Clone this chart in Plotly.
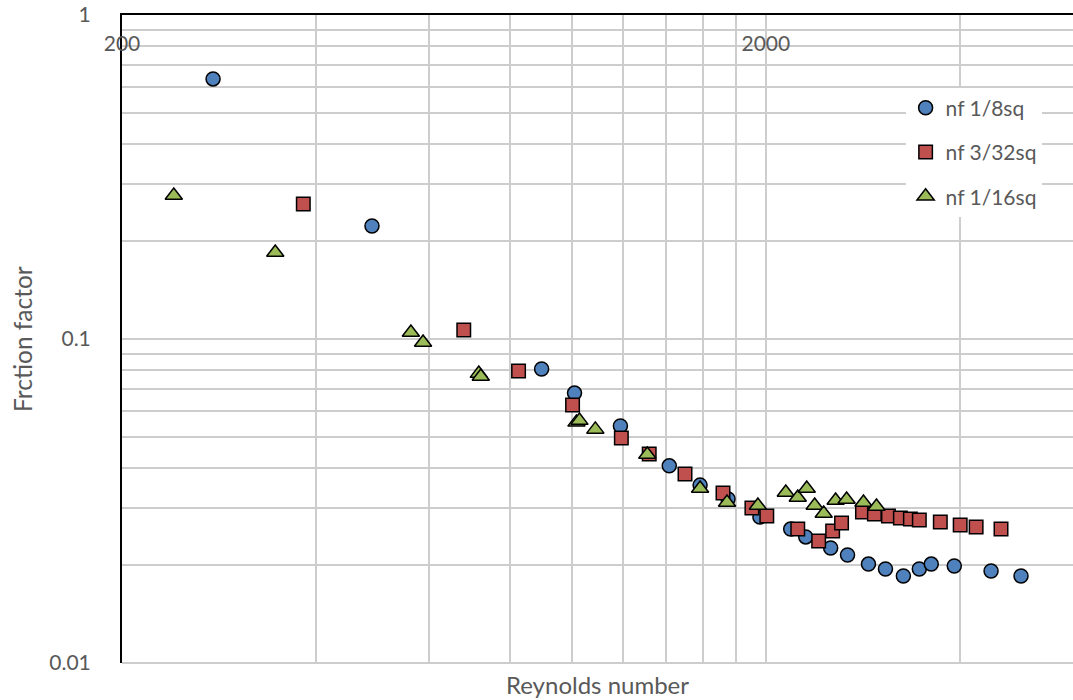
import plotly.graph_objects as go

# ---- data (Reynolds number, friction factor) ----
re_18 = [277, 489, 897, 1009, 1189, 1416, 1581, 1747, 1958, 2186, 2307, 2522, 2679,
         2887, 3068, 3271, 3463, 3614, 3924, 4476, 4982]
f_18 = [0.635, 0.2233, 0.0808, 0.0681, 0.0539, 0.0406, 0.0354, 0.0321, 0.0282, 0.0259,
        0.0245, 0.02264, 0.02154, 0.0202, 0.0195, 0.01856, 0.0195, 0.0202, 0.01993,
        0.01923, 0.01856]

re_332 = [382.5, 679, 826, 1002, 1193, 1318, 1498, 1716, 1903, 2007, 2242, 2416, 2540,
          2622, 2826, 2949, 3101, 3236, 3354, 3463, 3733, 4008, 4243, 4638]
f_332 = [0.261, 0.1066, 0.0797, 0.0626, 0.0495, 0.0442, 0.0383, 0.0335, 0.0301, 0.0284,
         0.0259, 0.0238, 0.02555, 0.02705, 0.02924, 0.02884, 0.0284, 0.02802, 0.02782,
         0.02763, 0.02724, 0.02667, 0.02629, 0.0259]

re_116 = [240.7, 346, 562, 587, 716.5, 721.6, 1016, 1027, 1087, 1309, 1581, 1741, 1944,
          2148, 2242, 2315, 2382, 2460, 2567, 2670, 2836, 2971]
f_116 = [0.2773, 0.1849, 0.1047, 0.0976, 0.0782, 0.0766, 0.0553, 0.0560, 0.0526, 0.0440,
         0.03456, 0.03129, 0.03063, 0.0336, 0.03243, 0.03456, 0.03063, 0.02894, 0.03173,
         0.03196, 0.03129, 0.03041]

series_names = ["nf 1/8sq", "nf 3/32sq", "nf 1/16sq"]

x_ticks = [200, 400, 600, 800, 1000, 1200, 1400, 1600, 1800, 2000, 4000, 6000]
x_ticktext = ["200", "", "", "", "", "", "", "", "", "2000", "", ""]
y_ticks = [0.01, 0.02, 0.03, 0.04, 0.05, 0.06, 0.07, 0.08, 0.09,
           0.1, 0.2, 0.3, 0.4, 0.5, 0.6, 0.7, 0.8, 0.9, 1]
y_ticktext = ["0.01"] + [""] * 8 + ["0.1"] + [""] * 8 + ["1"]

FONT = "Lato"
TXT = "#595959"
GRID = "#cdcdcd"

fig = go.Figure()
styles = [
    dict(symbol="circle", color="#4F81BD", size=14),
    dict(symbol="square", color="#C0504D", size=13.5),
    dict(symbol="triangle-up", color="#9BBB59", size=15),
]
for i, (xs, ys) in enumerate([(re_18, f_18), (re_332, f_332), (re_116, f_116)]):
    st = styles[i]
    fig.add_trace(go.Scatter(
        x=xs, y=ys, mode="markers", name=series_names[i], legendgroup=f"g{i}",
        marker=dict(symbol=st["symbol"], color=st["color"], size=st["size"],
                    line=dict(color="black", width=1.5)),
        cliponaxis=False,
    ))

fig.update_layout(
    width=1073, height=700,
    margin=dict(l=122, r=0, t=15, b=37),
    paper_bgcolor="white", plot_bgcolor="white",
    font=dict(family=FONT, size=21, color=TXT),
    showlegend=True,
    legend=dict(x=0.824, y=0.888, xanchor="left", yanchor="top",
                bgcolor="white", borderwidth=0, tracegroupgap=14,
                font=dict(family=FONT, size=21, color=TXT)),
    xaxis=dict(type="log", range=[2.30103, 3.77815], side="top", automargin=False,
               tickvals=x_ticks, ticktext=x_ticktext,
               ticklabelposition="inside", ticklabeloverflow="allow",
               ticklabelstandoff=23, ticks="",
               showgrid=True, gridcolor=GRID, gridwidth=1.5,
               showline=True, linecolor="black", linewidth=2,
               zeroline=False, tickfont=dict(family=FONT, size=21, color=TXT)),
    yaxis=dict(type="log", range=[-2, 0], automargin=False,
               tickvals=y_ticks, ticktext=y_ticktext, ticks="",
               ticklabelstandoff=25,
               showgrid=True, gridcolor=GRID, gridwidth=1.5,
               showline=True, linecolor="black", linewidth=2,
               zeroline=False, tickfont=dict(family=FONT, size=21, color=TXT)),
    shapes=[dict(type="line", xref="paper", yref="paper", x0=0, x1=1, y0=0, y1=0,
                 line=dict(color=GRID, width=2), layer="below")],
    annotations=[
        dict(text="Reynolds number", xref="paper", yref="paper",
             x=0.5, y=0, yshift=-21, yanchor="middle", showarrow=False,
             borderpad=0,
             font=dict(family=FONT, size=24, color=TXT)),
        dict(text="Frction factor", xref="paper", yref="paper",
             x=0, xshift=-100, y=0.5, xanchor="center", yanchor="middle",
             textangle=-90, showarrow=False,
             font=dict(family=FONT, size=24.5, color=TXT)),
    ],
)

fig.write_html("out.html", config={"displayModeBar": False},
               post_script="document.body.style.margin='0';document.body.style.overflow='hidden';")
